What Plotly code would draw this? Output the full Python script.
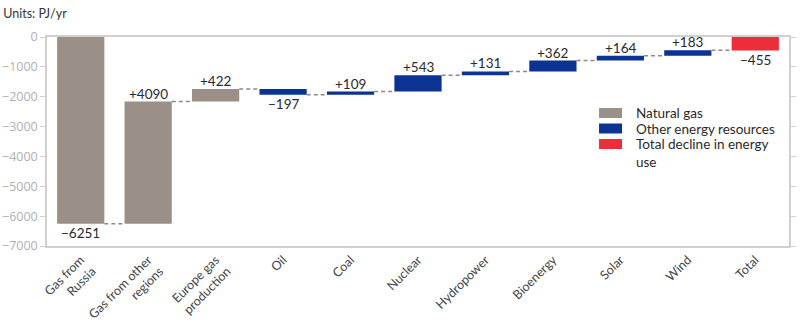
import plotly.graph_objects as go

# Change in EU energy use by source, PJ/yr
categories = ["Gas from<br>Russia", "Gas from other<br>regions", "Europe gas<br>production",
              "Oil", "Coal", "Nuclear", "Hydropower", "Bioenergy", "Solar", "Wind", "Total"]
changes = [-6251, 4090, 422, -197, 109, 543, 131, 362, 164, 183, -455]
groups = ["gas", "gas", "gas", "other", "other", "other", "other", "other", "other", "other", "total"]

group_names = {"gas": "Natural gas", "other": "Other energy resources",
               "total": "Total decline in energy<br>use"}
group_colors = {"gas": "#9a9087", "other": "#0b3394", "total": "#ec2d3a"}

FONT = "Lato, 'Open Sans', sans-serif"
TICK_FONT = "'Open Sans', Lato, sans-serif"
BAR_W = 0.7
PLOT_H = 327 - 37 - 81

# running bases for the floating bars; the total starts from zero
bases, levels = [], []
running = 0
for v, g in zip(changes, groups):
    if g == "total":
        bases.append(0)
        levels.append(v)
    else:
        bases.append(running)
        running += v
        levels.append(running)

def fmt(v):
    return ("+" if v > 0 else "\u2212") + str(abs(v))

fig = go.Figure()

# dashed connectors between consecutive bars
cx, cy = [], []
for i in range(len(changes) - 1):
    cx += [i + BAR_W / 2, i + 1 - BAR_W / 2, None]
    cy += [levels[i], levels[i], None]
fig.add_trace(go.Scatter(x=cx, y=cy, mode="lines", showlegend=False, hoverinfo="skip",
                         line=dict(color="#8a8a8a", width=1.5, dash="4px,3px")))

for g in ["gas", "other", "total"]:
    idx = [i for i, gg in enumerate(groups) if gg == g]
    fig.add_trace(go.Bar(
        x=idx, y=[changes[i] for i in idx], base=[bases[i] for i in idx],
        width=BAR_W, marker=dict(color=group_colors[g], line=dict(width=0)),
        showlegend=False, name=group_names[g]))

# value labels: gains sit on top of the bar, losses hang below it
for i, v in enumerate(changes):
    top = max(bases[i], bases[i] + v)
    bottom = min(bases[i], bases[i] + v)
    if v > 0:
        fig.add_annotation(x=i, y=top, text=fmt(v), showarrow=False, yanchor="bottom",
                           yshift=-1, borderpad=0,
                           font=dict(family=FONT, size=13.5, color="#2a2a2a"))
    else:
        fig.add_annotation(x=i, y=bottom, text=fmt(v), showarrow=False, yanchor="top",
                           yshift=0, borderpad=0,
                           font=dict(family=FONT, size=13.5, color="#2a2a2a"))

# legend drawn as swatches with labels (row centres in pixels from the top of the page)
legend_rows_px = [113, 128.5, 144]
for g, ypx in zip(["gas", "other", "total"], legend_rows_px):
    yc = (327 - 81 - ypx) / PLOT_H
    fig.add_shape(type="rect", xref="paper", yref="paper",
                  x0=0.744, x1=0.775, y0=yc - 5 / PLOT_H, y1=yc + 5 / PLOT_H,
                  fillcolor=group_colors[g], line=dict(width=0))
    fig.add_annotation(xref="paper", yref="paper", x=0.793, y=yc + 9 / PLOT_H,
                       text=group_names[g], showarrow=False, xanchor="left", yanchor="top",
                       align="left", borderpad=0,
                       font=dict(family=FONT, size=13.5, color="#2a2a2a"))

fig.update_layout(
    width=800, height=327,
    margin=dict(l=47, r=11, t=37, b=81, autoexpand=False),
    paper_bgcolor="white", plot_bgcolor="white",
    barmode="overlay", showlegend=False,
    title=dict(text="Units: PJ/yr", x=0.004, xanchor="left", y=1 - 14 / 327, yanchor="middle",
               font=dict(family=FONT, size=12.5, color="#333333")),
    font=dict(family=FONT),
)
fig.update_xaxes(
    tickvals=list(range(len(categories))), ticktext=categories,
    range=[-0.5, len(categories) - 0.5], tickangle=-45, automargin=False,
    tickfont=dict(family=FONT, size=12.5, color="#444444"),
    showline=True, mirror=True, linecolor="#d0d0d0", linewidth=1.5,
    showgrid=False, zeroline=False, ticks="",
)
fig.update_yaxes(
    range=[-7000, 0], dtick=1000, tickformat="d", automargin=False,
    tickfont=dict(family=TICK_FONT, size=12.5, color="#b0b0b0"),
    showline=True, mirror="ticks", linecolor="#d0d0d0", linewidth=1.5,
    ticks="outside", ticklen=5, tickcolor="#d0d0d0", ticklabelstandoff=0,
    showgrid=False, zeroline=False,
)

fig.write_html("out.html")
